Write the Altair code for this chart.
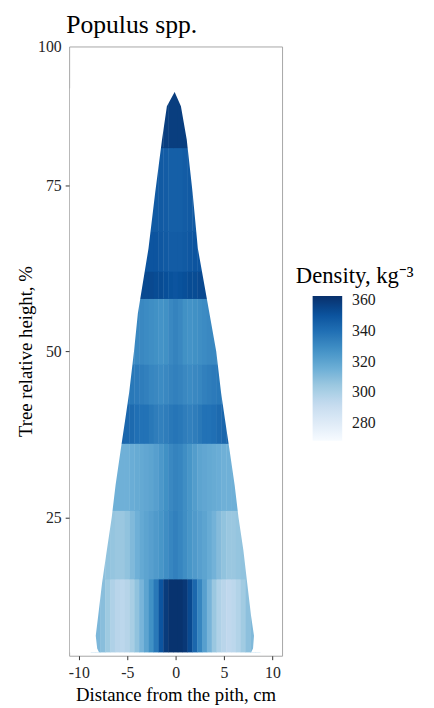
import altair as alt
import pandas as pd

SERIF = "Liberation Serif"

TITLE = "Populus spp."
X_TITLE = "Distance from the pith, cm"
Y_TITLE = "Tree relative height, %"
LEGEND_TITLE = "Density, kg⁻³"

x_ticks = [-10, -5, 0, 5, 10]
y_ticks = [25, 50, 75, 95.9]          # top tick sits at the panel top, labelled "100"
legend_values = [280, 300, 320, 340, 360]

x_domain = [-11, 11]
y_domain = [4.2, 95.9]

# radial sampling positions (cm from pith)
radial_pos = [-8.5, -8.0, -7.5, -7.0, -6.5, -6.0, -5.5, -5.0, -4.5, -4.0, -3.5, -3.0,
              -2.5, -2.0, -1.5, -1.0, -0.5, 0.0, 0.5, 1.0, 1.5, 2.0, 2.5, 3.0,
              3.5, 4.0, 4.5, 5.0, 5.5, 6.0, 6.5, 7.0, 7.5, 8.0, 8.5]

# height bands (% of tree height)
row_lo = [4.7, 15.7, 26.0, 36.1, 42.0, 48.0, 57.9, 62.0, 68.0, 80.6]
row_hi = [15.7, 26.0, 36.1, 42.0, 48.0, 57.9, 62.0, 68.0, 80.6, 89.05]

# density (kg m-3) read across the radius for each band
dens_r1 = [312, 312, 309, 304, 299, 296, 295, 297, 301, 307, 313, 320, 328, 337, 350, 359, 362, 362,
           362, 360, 354, 343, 332, 322, 313, 305, 299, 296, 294, 295, 298, 303, 308, 311, 311]
dens_r2a = [308, 308, 308, 307, 306, 305, 305, 307, 311, 315, 318, 320, 322, 324, 326, 329, 332, 334,
            332, 329, 326, 324, 322, 320, 317, 314, 310, 307, 305, 305, 306, 307, 308, 308, 308]
dens_r2b = [315, 315, 315, 315, 315, 315, 315, 315, 316, 317, 318, 319, 320, 322, 325, 328, 331, 333,
            332, 329, 326, 323, 320, 319, 318, 317, 316, 315, 315, 315, 315, 315, 315, 315, 315]
dens_r3a = [344, 344, 344, 344, 344, 344, 344, 343, 342, 340, 339, 339, 337, 335, 334, 335, 337, 338,
            337, 335, 334, 335, 337, 339, 339, 340, 342, 343, 344, 344, 344, 344, 344, 344, 344]
dens_r3m = [338, 338, 338, 338, 338, 338, 338, 338, 337, 336, 335, 334, 332, 331, 330, 331, 333, 334,
            333, 331, 330, 331, 332, 334, 335, 336, 337, 338, 338, 338, 338, 338, 338, 338, 338]
dens_r3b = [331, 331, 331, 331, 331, 331, 331, 331, 331, 331, 331, 330, 329, 328, 327, 328, 331, 333,
            331, 328, 327, 328, 329, 330, 331, 331, 331, 331, 331, 331, 331, 331, 331, 331, 331]
dens_r4a = [354, 354, 354, 354, 354, 354, 354, 354, 354, 354, 354, 354, 354, 353, 353, 352, 351, 350,
            351, 352, 353, 353, 354, 354, 354, 354, 354, 354, 354, 354, 354, 354, 354, 354, 354]
dens_r4m = [350, 350, 350, 350, 350, 350, 350, 350, 350, 350, 350, 350, 350, 350, 349, 348, 347, 347,
            347, 348, 349, 350, 350, 350, 350, 350, 350, 350, 350, 350, 350, 350, 350, 350, 350]
dens_r4b = [348, 348, 348, 348, 348, 348, 348, 348, 348, 348, 348, 348, 348, 348, 348, 347, 346, 346,
            346, 347, 348, 348, 348, 348, 348, 348, 348, 348, 348, 348, 348, 348, 348, 348, 348]
dens_r5 = [358, 358, 358, 358, 358, 358, 358, 358, 358, 358, 358, 358, 358, 358, 358, 358, 358, 358,
           358, 358, 358, 358, 358, 358, 358, 358, 358, 358, 358, 358, 358, 358, 358, 358, 358]
dens_rows = [dens_r1, dens_r2a, dens_r2b, dens_r3a, dens_r3m, dens_r3b,
             dens_r4a, dens_r4m, dens_r4b, dens_r5]

# stem outline (cm) at heights (%)
prof_y = [4.7, 5.3, 7.2, 10.2, 15.1, 20.1, 25.0, 29.9, 34.9, 39.8, 43.8, 50.0, 55.7,
          65.5, 74.0, 81.9, 86.9, 89.05, 89.6]
prof_left = [-7.9, -8.1, -8.25, -8.0, -7.6, -7.1, -6.6, -6.2, -5.7, -5.2, -4.8, -4.3, -3.9,
             -2.8, -2.1, -1.4, -0.9, -0.1, -0.1]
prof_right = [7.8, 8.0, 8.1, 7.8, 7.4, 7.0, 6.5, 6.1, 5.6, 5.1, 4.7, 4.2, 3.5,
              2.3, 1.75, 1.15, 0.55, -0.1, -0.1]

color_domain = [268.5, 280.3, 292.1, 303.9, 315.75, 327.6, 339.4, 351.2, 363.0]
color_range = ["#F7FBFF", "#DEEBF7", "#C6DBEF", "#9ECAE1", "#6BAED6",
               "#4292C6", "#2171B5", "#08519C", "#08306B"]

# ---- tables ----
half = 0.27
recs = []
for i, (lo, hi, vals) in enumerate(zip(row_lo, row_hi, dens_rows)):
    top = hi + (0.12 if i < len(row_lo) - 1 else 0.0)
    for xc, d in zip(radial_pos, vals):
        recs.append({"x0": xc - half, "x1": xc + half, "y0": lo, "y1": top, "density": d})
cells = pd.DataFrame(recs)

prof = pd.DataFrame({"y": prof_y, "left": prof_left, "right": prof_right})
prof["lo"] = x_domain[0] + 0.08
prof["hi"] = x_domain[1] - 0.08

x_scale = alt.Scale(domain=x_domain, nice=False, zero=False)
y_scale = alt.Scale(domain=y_domain, nice=False, zero=False)

x_axis = alt.Axis(values=x_ticks, labelExpr="'' + datum.value", tickSize=4, tickColor="#333333",
                  tickWidth=1, labelFont=SERIF, labelFontSize=16, labelColor="#262626",
                  labelBaseline="alphabetic", labelPadding=18, labelFlush=False,
                  domain=False, grid=False, title=X_TITLE, titleFont=SERIF, titleFontSize=19,
                  titleFontWeight="normal", titleColor="black", titleBaseline="alphabetic",
                  titleY=45)
y_axis = alt.Axis(values=y_ticks,
                  labelExpr="datum.value > 90 ? '100' : '' + datum.value",
                  tickSize=4,
                  tickColor={"condition": {"test": "datum.value > 90", "value": "transparent"},
                             "value": "#333333"},
                  tickWidth=1, labelFont=SERIF, labelFontSize=16, labelColor="#262626",
                  labelPadding=4, domain=False, grid=False, title=Y_TITLE, titleFont=SERIF,
                  titleFontSize=19, titleFontWeight="normal", titleColor="black",
                  titleBaseline="alphabetic", titleAngle=270, titleX=-38, titleY=309)

heat = alt.Chart(cells).mark_rect(strokeWidth=0).encode(
    x=alt.X("x0:Q", scale=x_scale, axis=x_axis),
    x2="x1",
    y=alt.Y("y0:Q", scale=y_scale, axis=y_axis),
    y2="y1",
    color=alt.Color("density:Q",
                    scale=alt.Scale(domain=color_domain, range=color_range, interpolate="lab"),
                    legend=alt.Legend(title=None, orient="none", legendX=247, legendY=253,
                                      direction="vertical", gradientLength=147,
                                      gradientThickness=30, gradientStrokeWidth=0,
                                      labelOffset=10, values=legend_values, labelFont=SERIF,
                                      labelFontSize=16, labelColor="#1a1a1a",
                                      labelOverlap=False)),
)

mask_left = alt.Chart(prof).mark_area(orient="horizontal", color="white").encode(
    y=alt.Y("y:Q", scale=y_scale, axis=y_axis),
    x=alt.X("lo:Q", scale=x_scale, axis=x_axis),
    x2="left",
)
mask_right = alt.Chart(prof).mark_area(orient="horizontal", color="white").encode(
    y=alt.Y("y:Q", scale=y_scale, axis=y_axis),
    x=alt.X("right:Q", scale=x_scale, axis=x_axis),
    x2="hi",
)

legend_title = alt.Chart(pd.DataFrame({"t": [LEGEND_TITLE]})).mark_text(
    align="left", baseline="alphabetic", font=SERIF, fontSize=23, color="black"
).encode(text="t:N", x=alt.value(230), y=alt.value(240))

chart = alt.layer(heat, mask_left, mask_right, legend_title).properties(
    width=216,
    height=618,
    title=alt.TitleParams(TITLE, anchor="start", frame="group", fontSize=26, font=SERIF,
                          fontWeight="normal", color="black", baseline="alphabetic",
                          offset=3, dx=-3, dy=23),
    padding={"left": 62, "top": 34, "right": 146, "bottom": 50},
    autosize=alt.AutoSizeParams(type="none"),
    background="white",
).configure(font=SERIF).configure_view(stroke="#a6a6a6", strokeWidth=1)

chart.save("out.html", embed_options={"renderer": "svg", "actions": False})
